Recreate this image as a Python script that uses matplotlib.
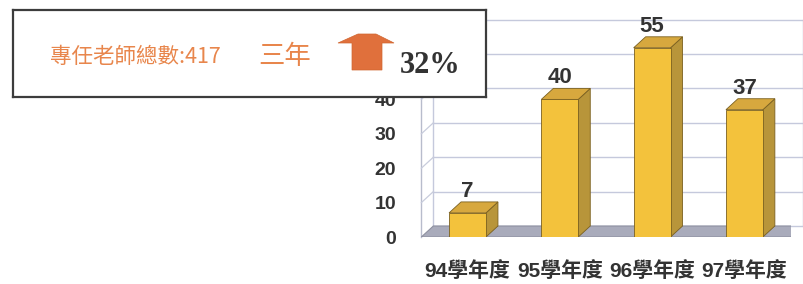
import matplotlib
matplotlib.use("Agg")
import matplotlib.pyplot as plt
from matplotlib.patches import Polygon
from matplotlib.transforms import ScaledTranslation

# ---- data ----
categories = ["94學年度", "95學年度", "96學年度", "97學年度"]
values = [7, 40, 55, 37]
yticks = [0, 10, 20, 30, 40, 50, 60]
box_text = "專任老師總數:417"
period_text = "三年"
growth_text = "32%"

W, H, DPI = 804, 284, 100
fig = plt.figure(figsize=(W / DPI, H / DPI), dpi=DPI)
fig.patch.set_facecolor("white")

def px(x0, y0_top, w, h):
    return [x0 / W, (H - y0_top - h) / H, w / W, h / H]

# main axes: front plane of the 3D chart
ax = fig.add_axes(px(421.35, 237 - 206.4, 369.2, 206.4))
ax.set_xlim(-0.5, 3.5)
ax.set_ylim(0, 60)
for s in ax.spines.values():
    s.set_visible(False)
ax.set_facecolor("none")

depth = ScaledTranslation(12 / DPI, 11 / DPI, fig.dpi_scale_trans)
tback = ax.transData + depth

grid_c = "#c5c9dc"
x0, x1 = -0.5, 3.5
# back wall gridlines
for v in yticks:
    ax.plot([x0, x1], [v, v], transform=tback, color=grid_c, lw=1.0, zorder=1, clip_on=False)
# back wall edges
ax.plot([x0, x0], [0, 60], transform=tback, color=grid_c, lw=1.0, zorder=1, clip_on=False)
ax.plot([x1, x1], [0, 60], transform=tback, color=grid_c, lw=1.0, zorder=1, clip_on=False)
# left wall front edge
ax.plot([x0, x0], [0, 60], transform=ax.transData, color="#b8bccc", lw=1.0, zorder=1, clip_on=False)

fig.canvas.draw()
def to_disp_pair(x, y):
    a = ax.transData.transform((x, y))
    b = tback.transform((x, y))
    return a, b

inv = fig.transFigure.inverted()
for v in yticks[1:]:
    a, b = to_disp_pair(x0, v)
    pa, pb = inv.transform(a), inv.transform(b)
    fig.add_artist(plt.Line2D([pa[0], pb[0]], [pa[1], pb[1]], transform=fig.transFigure,
                              color="#c8ccdc", lw=0.9, zorder=1))

# floor
a0, b0 = to_disp_pair(x0, 0)
a1, b1 = to_disp_pair(x1, 0)
floor = Polygon([a0, a1, b1, b0], closed=True, transform=None, facecolor="#a9abbb",
                edgecolor="#8e90a0", lw=0.8, zorder=2)
ax.add_artist(floor)

# bars
bw = 0.4
front_c, side_c, top_c, edge_c = "#f3c23c", "#b8953a", "#d7a83e", "#7a6020"
for i, v in enumerate(values):
    l, r = i - bw / 2, i + bw / 2
    fr = ax.transData.transform((r, 0))
    tl, tr = ax.transData.transform((l, v)), ax.transData.transform((r, v))
    btl, btr = tback.transform((l, v)), tback.transform((r, v))
    bbr = tback.transform((r, 0))
    side = Polygon([fr, tr, btr, bbr], closed=True, transform=None, facecolor=side_c,
                   edgecolor=edge_c, lw=0.6, zorder=3)
    top = Polygon([tl, tr, btr, btl], closed=True, transform=None, facecolor=top_c,
                  edgecolor=edge_c, lw=0.6, zorder=3)
    ax.add_artist(side)
    ax.add_artist(top)
ax.bar(range(len(values)), values, width=bw, color=front_c, edgecolor=edge_c,
       linewidth=0.6, zorder=4)

for i, v in enumerate(values):
    ax.annotate(str(v), (i, v), xytext=(0, 11 * 0.72), textcoords="offset points",
                ha="center", va="bottom", fontsize=16, fontweight="bold",
                family=["Liberation Sans", "DejaVu Sans"], color="#333333", zorder=6)

ax.set_yticks(yticks)
ax.set_yticklabels([str(t) for t in yticks], fontsize=14, fontweight="bold",
                   family=["Liberation Sans", "DejaVu Sans"], color="#333333")
ax.set_xticks(range(len(categories)))
ax.set_xticklabels(categories, fontsize=15, fontweight="bold",
                   family=["Liberation Sans", "Noto Sans CJK TC"], color="#333333")
ax.tick_params(axis="y", length=0, pad=18)
ax.tick_params(axis="x", length=0, pad=17)

# ---- callout box ----
bx = fig.add_axes(px(13, 10, 473, 87), zorder=10)
bx.set_xlim(13, 486)
bx.set_ylim(97, 10)
bx.set_xticks([])
bx.set_yticks([])
bx.set_facecolor("white")
for s in bx.spines.values():
    s.set_color("#3c3c3c")
    s.set_linewidth(1.6)

bx.text(50, 57, box_text, ha="left", va="center", fontsize=15.5, color="#e8864c",
        family=["Noto Sans CJK TC", "DejaVu Sans"])
bx.text(258, 57, period_text, ha="left", va="center", fontsize=19, color="#e8864c",
        family=["Noto Sans CJK TC", "DejaVu Sans"])
arrow = Polygon([(338, 43), (358, 34), (376, 34), (394, 43), (382, 43), (382, 70),
                 (352, 70), (352, 43)], closed=True, facecolor="#e0703c",
                edgecolor="#d0652f", lw=0.5)
bx.add_patch(arrow)
bx.text(400, 73, growth_text, ha="left", va="baseline", fontsize=22, fontweight="bold",
        color="#333333", family=["Liberation Serif", "DejaVu Serif"])

fig.savefig("out.png", dpi=DPI, facecolor="white")
